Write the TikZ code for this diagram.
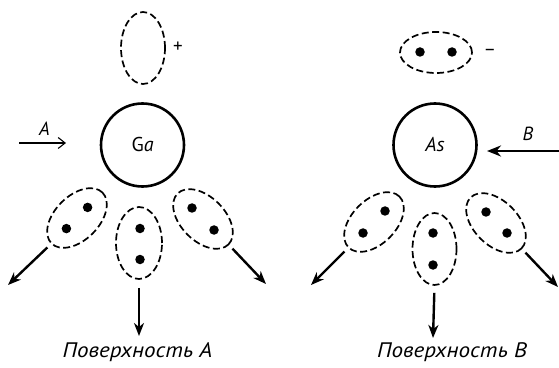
\documentclass[tikz,border=0pt]{standalone}
\usepackage{fontspec}
\setmainfont{PT Sans}
\usetikzlibrary{arrows.meta,shapes.geometric}
\tikzset{
  atom/.style={draw, circle, line width=2.6pt, minimum size=83pt, inner sep=0pt, font=\fontsize{20}{20}\selectfont},
  pair/.style={draw, ellipse, dashed, dash pattern=on 7pt off 3.5pt, line width=1.7pt, inner sep=0pt},
  electron/.style={fill, circle, inner sep=0pt, minimum size=9.5pt},
  outarrow/.style={line width=2.4pt, -{Stealth[length=13pt,width=10pt,inset=4pt]}},
  inarrow/.style={line width=2.4pt, -{Stealth[length=14pt,width=11pt,inset=4.5pt]}},
  openarrow/.style={line width=2.8pt, -{Straight Barb[length=7pt,width=11pt,line width=1.1pt]}},
  lab/.style={font=\itshape\fontsize{19}{19}\selectfont, inner sep=0pt},
  sign/.style={font=\fontsize{19}{19}\selectfont, inner sep=0pt},
  caption/.style={font=\itshape\fontsize{21}{21}\selectfont, inner sep=0pt, xscale=1.1},
}
\begin{document}
\begin{tikzpicture}[x=1pt,y=1pt]
\useasboundingbox (0,0) rectangle (559,367);
% ---------- Surface A ----------
\node[pair, minimum width=44pt, minimum height=72pt] (ta) at (143,319) {};
\node[sign] (plus) at (178,320) {+};
\node[atom] (ga) at (142.5,222) {G\textit{a}};
\coordinate (astart) at (19,224);
\coordinate (aend) at (66,224);
\draw[openarrow] (astart) -- (aend);
\node[lab] (alab) at (44.5,238) {A};

\node[pair, rotate=45, minimum width=72pt, minimum height=44pt] (l1) at (77,149) {};
\node[electron] (l1a) at (87.6,159.6) {};
\node[electron] (l1b) at (66.4,138.4) {};
\node[pair, minimum width=46pt, minimum height=72pt] (m1) at (139,124) {};
\node[electron] (m1a) at (140,138.5) {};
\node[electron] (m1b) at (140,107.5) {};
\node[pair, rotate=-45, minimum width=72pt, minimum height=44pt] (r1) at (203,148) {};
\node[electron] (r1a) at (192,159) {};
\node[electron] (r1b) at (214,137) {};

\coordinate (l1e) at (8,82);
\coordinate (m1e) at (139,31);
\coordinate (r1e) at (266,83);
\draw[outarrow, shorten <=5pt] (l1.west) -- (l1e);
\draw[outarrow, shorten <=8pt] (m1.south) -- (m1e);
\draw[outarrow, shorten <=5pt] (r1.east) -- (r1e);
\node[caption] (capa) at (137.5,15) {Поверхность A};

% ---------- Surface B ----------
\node[pair, minimum width=72pt, minimum height=41pt] (tb) at (436,314.5) {};
\node[electron] (tba) at (420,315) {};
\node[electron] (tbb) at (452,315) {};
\node[sign] (minus) at (490,315) {–};
\node[atom] (as) at (435,222) {\itshape As};
\coordinate (bstart) at (559,216);
\coordinate (bend) at (487,216);
\draw[inarrow] (bstart) -- (bend);
\node[lab] (blab) at (528,233.5) {B};

\node[pair, rotate=45, minimum width=72pt, minimum height=44pt] (l2) at (374,145) {};
\node[electron] (l2a) at (385,156) {};
\node[electron] (l2b) at (363,134) {};
\node[pair, minimum width=44pt, minimum height=72pt] (m2) at (434.5,118) {};
\node[electron] (m2a) at (433,134) {};
\node[electron] (m2b) at (433,102) {};
\node[pair, rotate=-45, minimum width=72pt, minimum height=44pt] (r2) at (496,144) {};
\node[electron] (r2a) at (486,155) {};
\node[electron] (r2b) at (507,134) {};

\coordinate (l2e) at (311,82);
\coordinate (m2e) at (433,29);
\coordinate (r2e) at (558,80);
\draw[outarrow, shorten <=5pt] (l2.west) -- (l2e);
\draw[outarrow, shorten <=7pt] (m2.south) -- (m2e);
\draw[outarrow, shorten <=5pt] (r2.east) -- (r2e);
\node[caption] (capb) at (452,15) {Поверхность B};
\end{tikzpicture}
\end{document}
